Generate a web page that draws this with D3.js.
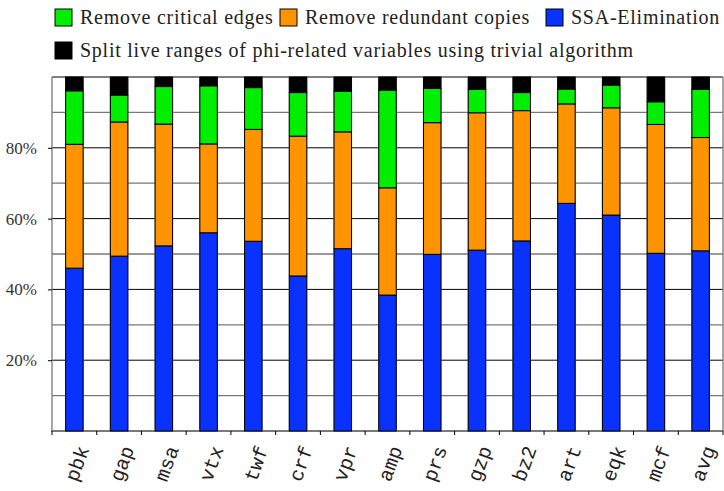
<!DOCTYPE html>
<html><head><meta charset="utf-8">
<script src="https://cdn.jsdelivr.net/npm/d3@7"></script>
<style>body{margin:0;background:#fff}</style>
</head><body>
<svg id="chart" width="724" height="491"></svg>
<script>
const categories = ["pbk","gap","msa","vtx","twf","crf","vpr","amp","prs","gzp","bz2","art","eqk","mcf","avg"];
// stacked from bottom: SSA-Elimination, Remove redundant copies, Remove critical edges, Split live ranges
const ssaElimination   = [46.0,49.4,52.3,56.0,53.6,43.8,51.5,38.4,49.9,51.1,53.7,64.3,61.0,50.2,50.9];
const removeRedundant  = [35.0,37.9,34.4,25.1,31.6,39.5,33.0,30.3,37.2,38.8,36.8,28.1,30.3,36.4,32.0];
const removeCritical   = [15.1, 7.6,10.6,16.4,11.8,12.3,11.5,27.6, 9.7, 6.6, 5.1, 4.2, 6.4, 6.4,13.6];
const splitLiveRanges  = [ 3.9, 5.1, 2.7, 2.5, 3.0, 4.4, 4.0, 3.7, 3.2, 3.5, 4.4, 3.4, 2.3, 7.0, 3.5];
const yTicks = [20,40,60,80];
const seriesNames = ["SSA-Elimination","Remove redundant copies","Remove critical edges","Split live ranges of phi-related variables using trivial algorithm"];
const seriesColors = ["#0a32ff","#ff9400","#00ee00","#000000"];

(function(){
const svg = d3.select("#chart");
const pL = 52, pR = 723, pT = 77, pB = 431;
const x = d3.scaleBand().domain(categories).range([pL, pR]).padding(0);
const y = d3.scaleLinear().domain([0,100]).range([pB, pT]);
const barW = x.bandwidth() * 0.39;

const table = categories.map((c,i) => ({cat:c, s0:ssaElimination[i], s1:removeRedundant[i], s2:removeCritical[i], s3:splitLiveRanges[i]}));
const stack = d3.stack().keys(["s0","s1","s2","s3"])(table);

const g = svg.append("g");
d3.range(0,101,10).forEach(v => {
  g.append("line").attr("x1",pL).attr("x2",pR).attr("y1",y(v)).attr("y2",y(v))
   .attr("stroke", v%20===0 ? "#000" : "#777").attr("stroke-width", v%20===0 ? 1 : 1.3);
});
categories.forEach(c => {
  const cx = x(c) + x.bandwidth()/2;
  [cx - barW/2, cx + barW/2].forEach(xx => {
    g.append("line").attr("x1",xx).attr("x2",xx).attr("y1",pT).attr("y2",pB)
     .attr("stroke","#888").attr("stroke-width",1.2);
  });
});
g.append("line").attr("x1",pL).attr("x2",pL).attr("y1",pT).attr("y2",pB+1).attr("stroke","#777").attr("stroke-width",1.3);
g.append("line").attr("x1",pR).attr("x2",pR).attr("y1",pT).attr("y2",pB).attr("stroke","#777").attr("stroke-width",1.3);
g.append("line").attr("x1",pL-1).attr("x2",pR).attr("y1",pB).attr("y2",pB).attr("stroke","#777").attr("stroke-width",1.5);

stack.forEach((layer, k) => {
  g.selectAll(null).data(layer).enter().append("rect")
   .attr("x", d => x(d.data.cat) + x.bandwidth()/2 - barW/2)
   .attr("width", barW)
   .attr("y", d => y(d[1]))
   .attr("height", d => y(d[0]) - y(d[1]))
   .attr("fill", seriesColors[k])
   .attr("stroke","#000").attr("stroke-width",1);
});

const yAxis = d3.axisLeft(y).tickValues(yTicks).tickSize(4).tickFormat(d => d + "%");
const ya = svg.append("g").attr("transform",`translate(${pL},0)`).call(yAxis);
ya.select(".domain").remove();
ya.selectAll(".tick line").attr("stroke","#000");
ya.selectAll(".tick text").attr("x",-15).attr("font-family","'Liberation Serif', serif")
  .attr("font-size",17).attr("fill","#333");

const xa = svg.append("g");
categories.concat([null]).forEach(c => {
  const xx = c ? x(c) : pR;
  xa.append("line").attr("x1",xx).attr("x2",xx).attr("y1",pB).attr("y2",pB+4).attr("stroke","#000");
});
categories.forEach(c => {
  const cx = x(c) + x.bandwidth()/2;
  xa.append("text").text(c)
    .attr("transform",`translate(${cx+10},447) rotate(-70)`)
    .attr("text-anchor","end").attr("dominant-baseline","central")
    .attr("font-family","'Courier New','Liberation Mono',monospace").attr("font-size",20).attr("fill","#222");
});

const legendItems = [
  {name:seriesNames[2], color:seriesColors[2], x:55, y:9},
  {name:seriesNames[1], color:seriesColors[1], x:280, y:9},
  {name:seriesNames[0], color:seriesColors[0], x:546, y:9},
  {name:seriesNames[3], color:seriesColors[3], x:55, y:42}
];
const lg = svg.append("g");
legendItems.forEach(it => {
  lg.append("rect").attr("x",it.x).attr("y",it.y).attr("width",17).attr("height",17)
    .attr("fill",it.color).attr("stroke","#000").attr("stroke-width",1);
  lg.append("text").attr("x",it.x+25).attr("y",it.y+15).text(it.name)
    .attr("font-family","'Liberation Serif', serif").attr("font-size",20)
    .attr("letter-spacing","0.75px").attr("fill","#222");
});
})();
</script>
</body></html>
